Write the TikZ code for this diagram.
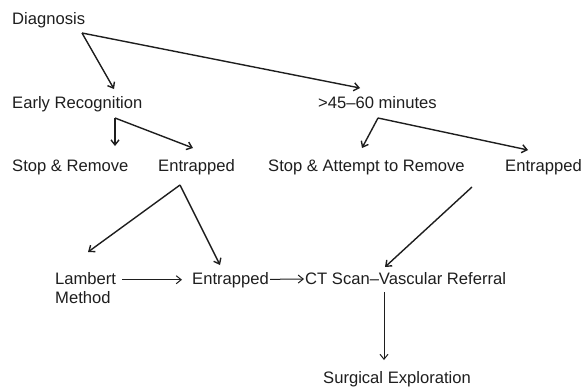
\documentclass[tikz,border=0pt]{standalone}
\usepackage{fontspec}
\setmainfont{Liberation Sans}
\usetikzlibrary{arrows.meta}
\definecolor{ink}{RGB}{30,30,30}

\begin{document}
\begin{tikzpicture}[x=1pt, y=-1pt, >={Straight Barb[length=5pt,width=8pt]},
  lbl/.style={anchor=base west, inner sep=1pt, text=ink,
              font=\fontsize{16.6}{19}\selectfont},
  arr/.style={->, line width=1.4pt, draw=ink},
  thinarr/.style={->, line width=1pt, draw=ink}]
  \useasboundingbox (0,0) rectangle (586,389);

  % Top
  \node[lbl] (diag)  at (11,24)  {Diagnosis};
  \node[lbl] (early) at (11,108) {Early Recognition};
  \node[lbl] (late)  at (317,108) {>45\textendash60 minutes};

  % Second row
  \node[lbl] (stopR) at (11,171)  {Stop \& Remove};
  \node[lbl] (entL)  at (157,171) {Entrapped};
  \node[lbl] (stopA) at (267,171) {Stop \& Attempt to Remove};
  \node[lbl] (entR)  at (504,171) {Entrapped};

  % Bottom
  \node[lbl, anchor=north west, align=left] (lambert) at (54,271) {Lambert\\Method};
  \node[lbl] (entM)  at (191,284) {Entrapped};
  \node[lbl] (ct)    at (304,284) {CT Scan\textendash Vascular Referral};
  \node[lbl] (surg)  at (322,383) {Surgical Exploration};

  % Fork points
  \coordinate (dfork) at ([shift={(71,9)}]diag.base west);
  \coordinate (efork) at ([shift={(104,10)}]early.base west);
  \coordinate (lfork) at ([shift={(61,10)}]late.base west);

  % Diagnosis
  \draw[arr] (dfork) -- ([shift={(103,-19)}]early.base west);
  \draw[arr] (dfork) -- ([shift={(43,-20)}]late.base west);

  % Early recognition
  \draw[arr] (efork) -- ([shift={(104,-25)}]stopR.base west);
  \draw[arr] (efork) -- ([shift={(36,-23)}]entL.base west);

  % Late
  \draw[arr] (lfork) -- ([shift={(95,-23)}]stopA.base west);
  \draw[arr] (lfork) -- ([shift={(24,-21)}]entR.base west);

  % Entrapped branches
  \draw[arr] ([shift={(23,14)}]entL.base west) -- ([shift={(34,-19)}]lambert.north west);
  \draw[arr] ([shift={(23,14)}]entL.base west) -- ([shift={(29,-19)}]entM.base west);
  \draw[arr] ([shift={(-32,16)}]entR.base west) -- ([shift={(81,-17)}]ct.base west);

  % Bottom chain
  \draw[thinarr] ([xshift=68pt]lambert.north west |- entM.west) -- ([xshift=-9pt]entM.west);
  \draw[thinarr] (entM) -- (ct);
  \draw[thinarr] ([shift={(80,8)}]ct.base west) -- ([shift={(62,-23)}]surg.base west);
\end{tikzpicture}
\end{document}
